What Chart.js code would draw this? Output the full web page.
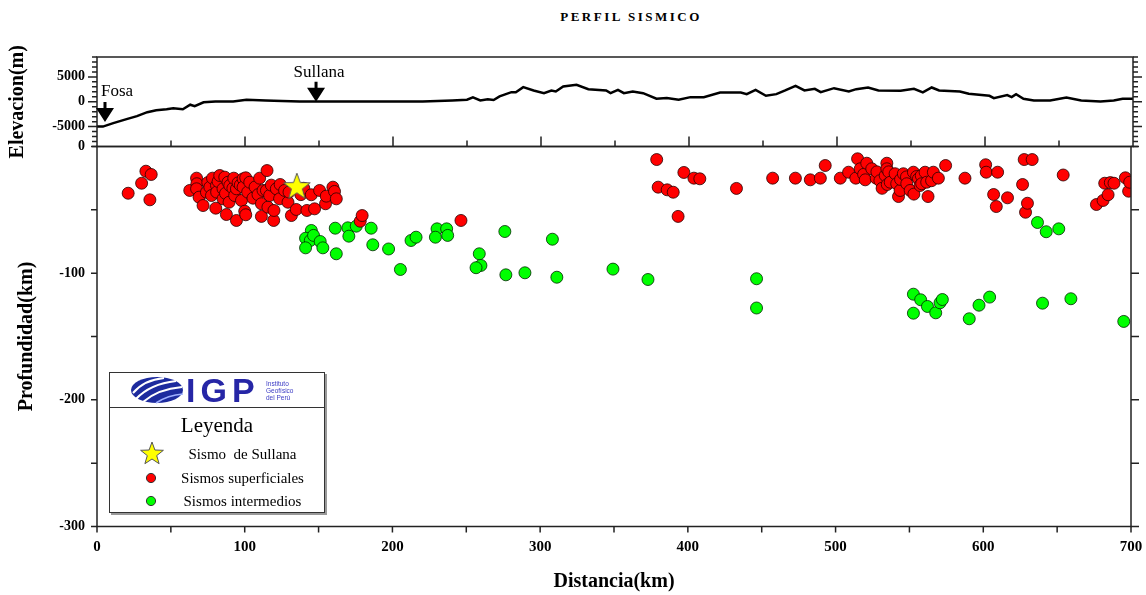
<!DOCTYPE html>
<html>
<head>
<meta charset="utf-8">
<script src="https://cdn.jsdelivr.net/npm/chart.js@4.4.0/dist/chart.umd.min.js"></script>
<style>
body{margin:0;background:#fff;width:1146px;height:595px;overflow:hidden;position:relative;font-family:"Liberation Serif","Times New Roman",serif;}
#titulo{position:absolute;top:9px;left:631px;transform:translateX(-50%);font-size:13px;font-weight:bold;letter-spacing:2.5px;white-space:nowrap;}
#cv_elev{position:absolute;left:0;top:0;}
#cv_prof{position:absolute;left:0;top:130px;}
#leyenda{position:absolute;left:109px;top:372px;width:214px;height:139px;border:1.5px solid #333;background:#fff;box-shadow:2px 2px 0 #999;}
#logo{position:absolute;left:0;top:0;width:214px;height:34px;border-bottom:1.5px solid #333;}
#globo{position:absolute;left:20px;top:3px;}
#igp{position:absolute;left:76px;top:0px;font-family:"Liberation Sans",Arial,sans-serif;font-weight:bold;font-size:34px;line-height:34px;color:#2626a6;letter-spacing:5px;}
#igp_txt{position:absolute;left:156px;top:7px;font-family:"Liberation Sans",Arial,sans-serif;font-size:6.5px;line-height:7px;color:#3a3ac4;}
#ley_tit{position:absolute;left:0;width:214px;top:40px;height:24px;line-height:24px;text-align:center;font-size:21px;}
.item{position:absolute;left:32px;width:201px;height:20px;line-height:20px;text-align:center;font-size:15px;white-space:pre;}
.marca{position:absolute;}
</style>
</head>
<body>
<div id="titulo">PERFIL SISMICO</div>
<canvas id="cv_elev" width="1146" height="170"></canvas>
<canvas id="cv_prof" width="1146" height="465"></canvas>

<div id="leyenda">
  <div id="logo">
    <svg id="globo" width="54" height="28" viewBox="0 0 54 28">
      <ellipse cx="27" cy="14" rx="26" ry="13" fill="#1d2b9e"/>
      <path d="M3 17 Q14 4 34 2" stroke="#fff" stroke-width="2" fill="none"/>
      <path d="M6 23 Q20 8 46 5" stroke="#fff" stroke-width="2.2" fill="none"/>
      <path d="M13 26 Q28 13 52 11" stroke="#fff" stroke-width="2" fill="none"/>
      <path d="M26 27 Q38 19 53 18" stroke="#9fb0ff" stroke-width="1.6" fill="none"/>
    </svg>
    <span id="igp">IGP</span>
    <span id="igp_txt">Instituto<br>Geofísico<br>del Perú</span>
  </div>
  <div id="ley_tit">Leyenda</div>
  <svg class="marca" style="left:28px;top:67px" width="28" height="28" viewBox="0 0 28 28">
    <polygon points="14,2 16.9,10 25.4,10.3 18.7,15.6 21.1,23.7 14,19 6.9,23.7 9.3,15.6 2.6,10.3 11.1,10" fill="#ffff00" stroke="#555" stroke-width="1"/>
  </svg>
  <div class="item" style="top:71px">Sismo  de Sullana</div>
  <svg class="marca" style="left:35px;top:99px" width="12" height="12"><circle cx="6" cy="6" r="4.6" fill="#ff0000" stroke="#333" stroke-width="1"/></svg>
  <div class="item" style="top:95px">Sismos superficiales</div>
  <svg class="marca" style="left:35px;top:122px" width="12" height="12"><circle cx="6" cy="6" r="4.6" fill="#00ff00" stroke="#333" stroke-width="1"/></svg>
  <div class="item" style="top:118px">Sismos intermedios</div>
</div>

<script>
// perfil topografico (km, m)
var distElev = [0,4,11,20,27,34,40,47,51.5,58,63,66,72,80,92,101,114,125,137,160,190,220,240,250,254,259,264,268,272,280,283,288,295,302,307,310,315,324,332,344,347,352,356,362,369,378,385,393,401,410,421,435,439,445,452,459,465,472,478,485,489,498,508,513,521,528,543,552,558,564,569,583,589,603,606,615,618,621,626,633,644,655,665,678,687,693,700];
var elev = [-5000,-5000,-4300,-3500,-2900,-2100,-1700,-1500,-1300,-1500,-600,-900,-100,50,70,400,270,150,70,50,70,70,250,400,870,270,500,350,1070,1930,1900,2930,2270,1730,2270,2070,3070,3400,2530,2270,1730,2400,1730,2070,1730,600,730,400,930,930,1870,1870,1530,2400,1200,1530,2270,3200,2270,2600,1930,2730,2070,2530,2870,2270,2200,2600,1870,2870,2270,2070,1600,1200,730,1330,930,1530,600,270,270,870,270,70,270,600,600];

// sismos [distancia km, profundidad km]
var sismosSuperficiales = [
 [21.1,-36.9],[30.2,-29.0],[33.1,-19.5],[36.7,-22.1],[35.8,-42.1],
 [62.8,-34.7],[67.4,-25.0],[67.6,-29.4],[67.4,-33.4],[69.1,-40.0],[71.8,-46.6],
 [74.1,-36.1],[75.0,-28.5],[76.4,-32.1],[77.5,-38.7],[78.2,-25.0],[80.4,-48.7],[80.9,-30.8],[81.0,-36.0],
 [82.0,-27.6],[83.1,-22.9],[85.3,-33.4],[85.3,-41.3],[86.5,-24.2],[87.0,-37.0],[87.6,-53.7],[88.7,-28.2],
 [89.4,-44.0],[89.9,-30.8],[92.0,-33.0],[92.6,-25.0],[93.2,-38.7],[94.4,-33.4],[94.4,-58.4],[95.5,-28.7],
 [97.0,-30.5],[97.8,-42.6],[98.9,-25.5],[98.9,-32.1],[100.0,-51.1],[100.7,-24.7],[100.7,-53.9],[102.0,-36.0],
 [103.4,-28.2],[105.6,-40.8],[107.0,-32.0],[109.0,-38.0],[110.1,-25.0],[111.3,-45.2],[111.3,-55.2],[112.4,-34.7],
 [114.7,-34.7],[115.1,-19.0],[115.7,-47.9],[116.9,-38.7],[118.0,-30.5],[119.6,-58.4],[119.8,-50.5],[121.4,-33.4],
 [123.6,-41.3],[124.0,-30.0],[127.0,-34.7],[129.3,-44.0],[130.0,-36.0],[131.6,-54.5],[134.9,-49.7],[138.0,-38.0],
 [140.0,-33.0],[142.1,-50.5],[145.1,-38.1],[147.3,-49.2],[150.7,-34.7],[154.7,-45.2],[155.2,-39.2],[159.7,-32.1],
 [160.8,-35.5],[162.0,-41.3],[178.2,-59.0],[179.5,-54.5],[246.4,-58.4],
 [378.9,-10.3],[379.9,-32.1],[386.0,-34.2],[390.1,-36.1],[393.4,-55.2],[397.3,-20.5],[404.1,-25.0],[408.1,-25.5],
 [432.9,-33.1],[457.4,-25.0],[472.8,-25.0],[482.9,-26.3],[489.7,-25.0],[493.0,-15.0],[503.2,-25.0],[508.8,-20.3],
 [513.7,-25.0],[514.9,-9.7],[516.7,-17.6],[519.0,-22.0],[520.1,-26.3],[521.1,-13.2],[524.5,-17.6],[527.5,-25.0],
 [528.0,-20.0],[530.0,-27.0],[531.5,-33.0],[533.6,-22.9],[534.7,-13.2],[534.7,-17.6],[535.0,-30.0],[536.0,-20.0],
 [537.0,-28.2],[540.3,-21.5],[541.4,-29.4],[542.6,-39.5],[543.7,-34.7],[544.0,-26.0],[545.9,-21.5],[548.0,-24.0],
 [548.2,-29.4],[550.5,-34.7],[552.7,-20.3],[553.0,-37.6],[554.9,-23.7],[556.1,-25.5],[557.2,-30.8],[558.0,-23.0],
 [558.3,-29.4],[560.6,-20.3],[561.7,-28.2],[562.6,-39.5],[565.0,-27.0],[566.2,-20.3],[569.6,-25.0],[574.5,-15.0],
 [587.6,-25.0],[601.6,-14.4],[602.0,-20.3],[607.0,-37.9],[608.8,-47.4],[609.7,-20.3],[616.4,-40.5],[626.6,-30.0],
 [627.7,-10.3],[628.6,-51.9],[629.9,-44.8],[633.1,-10.3],[654.1,-22.5],[676.6,-45.8],[681.1,-42.6],[682.2,-29.0],
 [684.5,-38.1],[686.0,-28.5],[688.5,-29.0],[696.2,-24.7],[698.4,-35.3],[699.1,-28.2]
];
var sismosIntermedios = [
 [145.1,-66.3],[141.2,-72.4],[144.4,-74.2],[146.6,-70.2],[151.1,-75.0],[152.9,-80.0],[141.2,-80.0],[161.3,-64.5],
 [169.8,-64.2],[175.5,-62.9],[170.5,-70.8],[162.0,-84.7],[185.6,-64.5],[186.7,-77.6],[197.4,-80.9],[205.4,-97.1],
 [212.6,-74.2],[216.0,-71.6],[230.2,-65.0],[236.7,-65.0],[229.1,-71.6],[237.4,-70.2],[276.1,-67.1],[258.8,-84.7],
 [259.9,-93.9],[256.6,-95.7],[276.8,-101.3],[289.7,-99.7],[308.3,-73.2],[311.3,-103.2],[349.3,-96.8],[373.0,-105.0],
 [446.5,-104.4],[446.5,-127.5],[552.7,-116.6],[557.6,-121.0],[562.2,-126.3],[552.7,-131.6],[567.8,-131.3],[570.7,-123.4],
 [572.3,-120.8],[590.5,-136.0],[597.1,-125.3],[604.3,-118.9],[640.1,-123.7],[659.3,-120.2],[695.1,-138.1],[636.7,-60.0],
 [642.6,-67.3],[651.1,-65.0]
];
var sismoSullana = [[135.3,-32.1]];

var ticksElev = [-5000,0,5000];
var ticksProf = [-300,-200,-100,0];
var ticksDist = [0,100,200,300,400,500,600,700];

// flechas del perfil
var marcadores = ['Fosa','Sullana'];
var marcadorDist = [5.4,148];
var marcadorElev = [-4050,0];

Chart.defaults.font.family = '"Liberation Serif","Times New Roman",serif';
Chart.defaults.color = '#000';

function star_img(R){
    var c = document.createElement('canvas');
    c.width = c.height = 2*R+4;
    var g = c.getContext('2d');
    var cx = R+2;
    g.beginPath();
    for (var i=0;i<10;i++){
        var a = -Math.PI/2 + i*Math.PI/5;
        var r = (i%2==0) ? R : R*0.41;
        g.lineTo(cx+r*Math.cos(a), cx+r*Math.sin(a));
    }
    g.closePath();
    g.fillStyle = '#ffff00';
    g.fill();
    g.strokeStyle = '#555';
    g.lineWidth = 1;
    g.stroke();
    return c;
}

// sin relleno extra de las etiquetas extremas
function sin_padding(s){
    s.paddingLeft = 0; s.paddingRight = 0;
    s.paddingTop = 0; s.paddingBottom = 0;
}

var marcoElev = {
    id:'marcoElev',
    afterDraw: function(chart){
        var ctx = chart.ctx, a = chart.chartArea, x = chart.scales.x, y = chart.scales.y;
        ctx.save();
        ctx.strokeStyle = '#222';
        ctx.lineWidth = 1.5;
        ctx.strokeRect(a.left, a.top, a.right-a.left, a.bottom-a.top);
        ctx.beginPath();
        for (var v=50; v<700; v+=50){
            var px = x.getPixelForValue(v);
            ctx.moveTo(px, a.bottom);
            ctx.lineTo(px, a.bottom - (v%100==0 ? 10 : 6));
        }
        for (var e=-9000; e<=9000; e+=1000){
            var py = y.getPixelForValue(e);
            var l = (e%5000==0) ? 9 : 5;
            ctx.moveTo(a.left, py); ctx.lineTo(a.left-l, py);
            ctx.moveTo(a.right, py); ctx.lineTo(a.right+l, py);
        }
        ctx.stroke();
        // flechas Fosa / Sullana
        ctx.fillStyle = '#000';
        ctx.font = '17px "Liberation Serif"';
        for (var i=0;i<marcadores.length;i++){
            var mx = x.getPixelForValue(marcadorDist[i]);
            var my = y.getPixelForValue(marcadorElev[i]);
            ctx.beginPath();
            ctx.moveTo(mx, my);
            ctx.lineTo(mx-9, my-14);
            ctx.lineTo(mx-1.5, my-14);
            ctx.lineTo(mx-1.5, my-20);
            ctx.lineTo(mx+1.5, my-20);
            ctx.lineTo(mx+1.5, my-14);
            ctx.lineTo(mx+9, my-14);
            ctx.closePath();
            ctx.fill();
            if (i==0){
                ctx.textAlign = 'left';
                ctx.fillText(marcadores[i], mx-4, my-26);
            }
            else{
                ctx.textAlign = 'center';
                ctx.fillText(marcadores[i], mx+3, my-25);
            }
        }
        ctx.restore();
    }
};

var marcoProf = {
    id:'marcoProf',
    afterDraw: function(chart){
        var ctx = chart.ctx, a = chart.chartArea, x = chart.scales.x, y = chart.scales.y;
        ctx.save();
        ctx.strokeStyle = '#222';
        ctx.lineWidth = 1.5;
        ctx.strokeRect(a.left, a.top, a.right-a.left, a.bottom-a.top);
        ctx.beginPath();
        for (var v=0; v<=700; v+=50){
            var px = x.getPixelForValue(v);
            ctx.moveTo(px, a.bottom); ctx.lineTo(px, a.bottom+6);
        }
        for (var p=-300; p<=0; p+=50){
            var py = y.getPixelForValue(p);
            ctx.moveTo(a.left, py); ctx.lineTo(a.left-6, py);
            ctx.moveTo(a.right, py); ctx.lineTo(a.right+8, py);
        }
        ctx.stroke();
        ctx.restore();
    }
};

function build_elev(){
    var ctx = document.getElementById('cv_elev').getContext('2d');
    new Chart(ctx, {
        type:'line',
        data:{
            datasets:[{
                data: distElev.map(function(d,i){ return {x:d, y:elev[i]}; }),
                borderColor:'#000',
                borderWidth:2.5,
                pointRadius:0,
                tension:0,
                fill:false
            }]
        },
        options:{
            responsive:false,
            animation:false,
            layout:{padding:{top:57,bottom:23.5,left:0,right:13}},
            plugins:{legend:{display:false}, tooltip:{enabled:false}},
            scales:{
                x:{type:'linear', min:0, max:700, display:false},
                y:{
                    min:-9000, max:9000,
                    afterBuildTicks: function(s){ s.ticks = ticksElev.map(function(v){ return {value:v}; }); },
                    afterFit: function(s){ s.width = 97; sin_padding(s); },
                    grid:{display:false, drawTicks:false},
                    border:{display:false},
                    ticks:{padding:12, font:{size:14, weight:'bold'}, callback:function(v){ return String(v); }},
                    title:{display:true, text:'Elevacion(m)', font:{size:20, weight:'bold'}, padding:{top:6, bottom:0}}
                }
            }
        },
        plugins:[marcoElev]
    });
}

function build_prof(){
    var ctx = document.getElementById('cv_prof').getContext('2d');
    var pts = function(l){ return l.map(function(p){ return {x:p[0], y:p[1]}; }); };
    new Chart(ctx, {
        type:'scatter',
        data:{
            datasets:[
                {label:'Sismo de Sullana', data:pts(sismoSullana), pointStyle:star_img(14), pointRadius:14, order:0, clip:0},
                {label:'Sismos superficiales', data:pts(sismosSuperficiales), backgroundColor:'#ff0000', borderColor:'rgba(40,0,0,0.8)', borderWidth:1, pointRadius:6, order:1, clip:0},
                {label:'Sismos intermedios', data:pts(sismosIntermedios), backgroundColor:'#00ff00', borderColor:'rgba(0,40,0,0.8)', borderWidth:1, pointRadius:6, order:2, clip:0}
            ]
        },
        options:{
            responsive:false,
            animation:false,
            layout:{padding:{top:16.5, bottom:0, left:0, right:13}},
            plugins:{legend:{display:false}, tooltip:{enabled:false}},
            scales:{
                x:{
                    type:'linear', min:0, max:700,
                    afterBuildTicks: function(s){ s.ticks = ticksDist.map(function(v){ return {value:v}; }); },
                    afterFit: function(s){ s.height = 68.5; sin_padding(s); },
                    grid:{display:false, drawTicks:false},
                    border:{display:false},
                    ticks:{padding:12, font:{size:15, weight:'bold'}, maxRotation:0},
                    title:{display:true, text:'Distancia(km)', font:{size:20, weight:'bold'}, padding:{top:0, bottom:1}}
                },
                y:{
                    min:-300, max:0,
                    afterBuildTicks: function(s){ s.ticks = ticksProf.map(function(v){ return {value:v}; }); },
                    afterFit: function(s){ s.width = 97; sin_padding(s); },
                    grid:{display:false, drawTicks:false},
                    border:{display:false},
                    ticks:{padding:12, font:{size:14, weight:'bold'}, callback:function(v){ return String(v); }},
                    title:{display:true, text:'Profundidad(km)', font:{size:20, weight:'bold'}, padding:{top:15, bottom:0}}
                }
            }
        },
        plugins:[marcoProf]
    });
}

build_elev();
build_prof();
</script>
</body>
</html>
